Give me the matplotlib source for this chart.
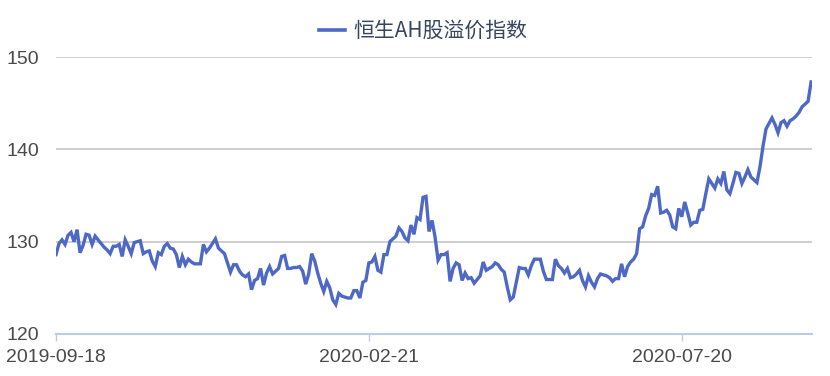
import matplotlib
matplotlib.use("Agg")
import matplotlib.pyplot as plt
from matplotlib.lines import Line2D

series_name = "恒生AH股溢价指数"
tick_labels = ["2019-09-18", "2020-02-21", "2020-07-20"]
tick_step = 104
y_ticks = [120, 130, 140, 150]

values = [
    128.6, 129.8, 130.2, 129.7, 130.7, 131.0, 130.0, 131.3, 128.8, 129.6,
    130.8, 130.7, 129.7, 130.6, 130.2, 129.8, 129.4, 129.1, 128.7, 129.5,
    129.5, 129.7, 128.4, 130.2, 129.5, 128.7, 129.9, 130.0, 130.1, 128.7,
    128.9, 129.0, 127.9, 127.3, 128.8, 128.6, 129.5, 129.8, 129.3, 129.2,
    128.6, 127.2, 128.4, 127.5, 128.1, 127.8, 127.6, 127.6, 127.6, 129.7,
    128.9, 129.3, 129.8, 130.3, 129.3, 129.0, 128.7, 127.7, 126.7, 127.5,
    127.5, 126.8, 126.4, 126.2, 126.5, 124.8, 125.8, 126.0, 127.1, 125.3,
    126.6, 127.3, 126.5, 126.8, 127.1, 128.4, 128.5, 127.1, 127.1, 127.2,
    127.2, 127.3, 126.8, 125.4, 126.5, 128.7, 127.9, 126.6, 125.5, 124.6,
    125.7, 125.0, 123.7, 123.2, 124.4, 124.1, 124.0, 123.9, 123.9, 124.7,
    124.7, 123.9, 125.6, 125.8, 127.7, 127.8, 128.4, 126.9, 126.7, 128.6,
    128.6, 130.0, 130.3, 130.6, 131.5, 131.1, 130.4, 130.1, 131.8, 130.8,
    132.6, 132.4, 134.8, 134.9, 131.1, 132.3, 130.5, 128.0, 128.6, 128.6,
    128.8, 125.7, 127.1, 127.7, 127.5, 125.8, 126.6, 126.0, 126.1, 125.5,
    125.9, 126.3, 127.8, 126.9, 127.1, 127.3, 127.7, 127.5, 127.0, 126.7,
    125.1, 123.7, 124.0, 125.6, 127.2, 127.1, 127.1, 126.4, 127.4, 128.1,
    128.1, 128.1, 126.8, 125.9, 125.9, 125.9, 128.1, 127.4, 127.1, 126.6,
    127.1, 126.1, 126.2, 126.5, 126.9, 125.8, 125.1, 126.3, 125.6, 125.1,
    126.0, 126.5, 126.4, 126.3, 126.1, 125.7, 126.0, 126.0, 127.6, 126.2,
    127.3, 127.8, 128.1, 128.7, 131.4, 131.6, 132.8, 133.6, 135.1, 135.0,
    136.0, 133.1, 133.2, 133.4, 132.9, 131.6, 131.4, 133.6, 132.7, 134.3,
    133.1, 131.8, 132.1, 132.1, 133.4, 133.5, 135.2, 136.8, 136.3, 135.8,
    136.8, 136.3, 137.6, 135.6, 135.2, 136.3, 137.5, 137.4, 136.3, 137.0,
    137.8, 137.0, 136.7, 136.4, 138.1, 140.3, 142.2, 142.8, 143.4, 142.7,
    141.8, 142.9, 143.1, 142.5, 143.1, 143.3, 143.6, 144.0, 144.6, 144.9,
    145.2, 147.3,
]

line_color = "#4d68c5"
text_color = "#4a4a4a"

fig = plt.figure(figsize=(8.3, 3.76), dpi=100)
ax = fig.add_axes([56 / 830, 1 - 334 / 376, (812 - 56) / 830, (334 - 57) / 376])

x = list(range(len(values)))
ax.plot(x, values, color=line_color, lw=2.4, solid_joinstyle="miter", zorder=3)

ax.set_xlim(0, len(values) - 0.7)
ax.set_ylim(120, 150)
ax.set_yticks(y_ticks)
ax.set_yticklabels([str(v) for v in y_ticks])
ax.set_xticks([i * tick_step for i in range(len(tick_labels))])
ax.set_xticklabels(tick_labels)

for v in y_ticks[1:]:
    ax.axhline(v, color="#cccccc", lw=1.3, zorder=1)

for s in ["top", "right", "left"]:
    ax.spines[s].set_visible(False)
ax.spines["bottom"].set_color("#bccbe8")
ax.spines["bottom"].set_linewidth(1.5)

ax.tick_params(axis="y", length=0, pad=12, labelsize=14, labelcolor=text_color)
ax.tick_params(axis="x", length=5, width=1, color="#bccbe8", pad=6,
               labelsize=14, labelcolor=text_color)
for lab in ax.get_xticklabels() + ax.get_yticklabels():
    lab.set_family(["Liberation Sans", "DejaVu Sans"])

handle = Line2D([], [], color=line_color, lw=2.6)
leg = fig.legend([handle], [series_name], loc="center", bbox_to_anchor=(423 / 830, 1 - 31 / 376),
                 frameon=False, handlelength=1.25, handletextpad=0.4,
                 prop={"family": ["Noto Sans CJK SC", "DejaVu Sans"], "size": 15})
for t in leg.get_texts():
    t.set_color("#36465f")

fig.savefig("out.png", dpi=100)
